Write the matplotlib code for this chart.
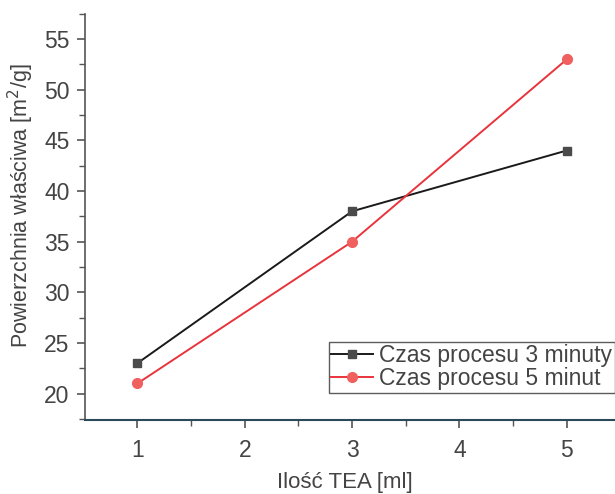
import matplotlib
matplotlib.use("Agg")
import matplotlib.pyplot as plt
from matplotlib.ticker import MultipleLocator

plt.rcParams['font.family'] = ['Liberation Sans', 'DejaVu Sans']

x = [1, 3, 5]
s3 = [23, 38, 44]
s5 = [21, 35, 53]
labels = ["Czas procesu 3 minuty", "Czas procesu 5 minut"]

fig = plt.figure(figsize=(6.15, 4.94), dpi=100)
ax = fig.add_axes([0.138, 0.150, 0.862, 0.822])

ax.plot(x, s3, color='#1a1a1a', lw=1.4, marker='s', ms=6, mfc='#4a4a4a', mec='#4a4a4a', label=labels[0])
ax.plot(x, s5, color='#e8343c', lw=1.4, marker='o', ms=7, mfc='#f0605e', mec='#f0605e', label=labels[1])

ax.set_xlim(0.51, 5.45)
ax.set_ylim(17.4, 57.5)
ax.xaxis.set_minor_locator(MultipleLocator(0.5))
ax.yaxis.set_minor_locator(MultipleLocator(2.5))
ax.set_xticks([1, 2, 3, 4, 5])
ax.set_yticks([20, 25, 30, 35, 40, 45, 50, 55])

for s in ['top', 'right']:
    ax.spines[s].set_visible(False)
ax.spines['left'].set_color('#555555')
ax.spines['bottom'].set_color('#2a4a5a')
ax.spines['left'].set_linewidth(1.2)
ax.spines['bottom'].set_linewidth(1.5)

ax.tick_params(axis='both', which='major', direction='out', length=6, width=1.2, colors='#555555', labelsize=16.5, labelcolor='#444444', pad=5)
ax.tick_params(axis='x', which='major', pad=8)
ax.tick_params(axis='both', which='minor', direction='out', length=4, width=1.0, colors='#555555')

fig.text(345/615, 6/494, "Ilość TEA [ml]", fontsize=16, color='#444444', ha='center', va='baseline')
ax.set_ylabel("Powierzchnia właściwa [m$^2$/g]", fontsize=15.5, color='#444444', labelpad=6)
ax.yaxis.label.set_y(0.527)

leg = ax.legend(loc='upper left', bbox_to_anchor=(329/615, 1-342/494), bbox_transform=fig.transFigure,
                fontsize=16.5, frameon=True, fancybox=False, borderpad=0.1, handlelength=1.8,
                handletextpad=0.3, labelspacing=0.0, borderaxespad=0)
leg.get_frame().set_edgecolor('#333333')
leg.get_frame().set_linewidth(1.0)
for t in leg.get_texts():
    t.set_color('#444444')

fig.savefig("out.png", dpi=100)
